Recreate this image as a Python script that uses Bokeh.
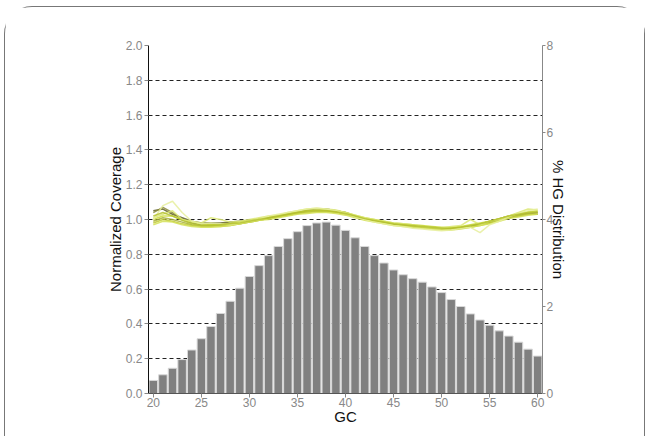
from bokeh.plotting import figure
from bokeh.models import Range1d, LinearAxis, FixedTicker, ColumnDataSource, PrintfTickFormatter
from bokeh.embed import file_html
from bokeh.resources import INLINE

gc = list(range(20, 61))

hg_dist = [0.30, 0.43, 0.58, 0.78, 1.00, 1.26, 1.54, 1.84, 2.12, 2.42, 2.69,
           2.94, 3.17, 3.38, 3.56, 3.72, 3.86, 3.92, 3.94, 3.87, 3.75, 3.58,
           3.38, 3.17, 3.00, 2.84, 2.73, 2.64, 2.56, 2.45, 2.32, 2.16, 2.00,
           1.83, 1.69, 1.57, 1.44, 1.32, 1.18, 1.02, 0.86]

cov1 = [1.05,1.06,1.03,1.01,0.99,0.98,0.98,0.98,0.985,0.99,0.995,1.0,1.01,1.02,1.03,1.04,1.05,1.06,1.06,1.05,1.04,1.02,1.005,0.995,0.985,0.975,0.97,0.965,0.96,0.955,0.95,0.95,0.955,0.96,0.97,0.985,1.0,1.01,1.02,1.03,1.03]
cov2 = [1.04,1.07,1.04,1.0,0.98,0.97,0.97,0.975,0.98,0.985,0.99,1.0,1.01,1.02,1.035,1.045,1.055,1.06,1.055,1.045,1.035,1.02,1.005,0.99,0.98,0.97,0.965,0.96,0.955,0.95,0.945,0.945,0.95,0.96,0.975,0.99,1.005,1.02,1.03,1.035,1.04]
cov3 = [0.99,1.01,1.0,0.985,0.97,0.965,0.965,0.965,0.97,0.975,0.985,0.995,1.005,1.015,1.025,1.035,1.045,1.05,1.05,1.045,1.035,1.02,1.005,0.995,0.985,0.975,0.97,0.965,0.96,0.955,0.95,0.95,0.955,0.96,0.97,0.98,0.995,1.01,1.025,1.035,1.04]
cov4 = [0.98,1.0,0.99,0.975,0.965,0.96,0.96,0.96,0.965,0.975,0.985,0.995,1.005,1.015,1.025,1.035,1.04,1.045,1.045,1.04,1.03,1.015,1.0,0.99,0.98,0.97,0.965,0.96,0.955,0.95,0.945,0.945,0.95,0.955,0.965,0.98,0.995,1.01,1.02,1.03,1.03]
cov5 = [1.0,1.02,1.02,1.0,0.985,0.975,0.97,0.97,0.975,0.985,0.995,1.005,1.015,1.025,1.035,1.045,1.05,1.055,1.055,1.05,1.04,1.025,1.01,1.0,0.99,0.98,0.975,0.97,0.965,0.96,0.955,0.955,0.96,0.97,0.98,0.99,1.005,1.02,1.035,1.045,1.05]
cov6 = [0.97,0.99,0.985,0.97,0.96,0.955,0.955,0.96,0.965,0.975,0.985,0.995,1.0,1.01,1.02,1.03,1.035,1.04,1.04,1.035,1.025,1.01,0.995,0.985,0.975,0.965,0.96,0.955,0.95,0.945,0.94,0.94,0.945,0.955,0.965,0.975,0.99,1.005,1.015,1.025,1.03]
cov7 = [1.01,1.03,1.05,1.0,0.99,0.98,1.01,1.0,0.985,0.99,1.0,1.01,1.02,1.025,1.04,1.05,1.06,1.065,1.06,1.055,1.04,1.025,1.01,1.0,0.99,0.98,0.975,0.97,0.96,0.955,0.95,0.96,0.965,1.0,0.97,0.99,1.0,1.02,1.04,1.06,1.055]
cov8 = [1.0,1.08,1.105,1.04,0.99,0.975,0.98,0.975,0.97,0.98,0.99,1.0,1.02,1.03,1.04,1.05,1.06,1.065,1.06,1.05,1.035,1.015,1.0,0.985,0.975,0.965,0.96,0.95,0.945,0.94,0.935,0.94,0.95,0.955,0.925,0.97,0.99,1.015,1.035,1.05,1.06]
cov9 = [1.02,1.04,1.02,0.995,0.975,0.965,0.965,0.97,0.975,0.98,0.99,1.0,1.01,1.02,1.03,1.04,1.05,1.05,1.05,1.045,1.035,1.02,1.005,0.995,0.985,0.975,0.97,0.965,0.96,0.955,0.95,0.95,0.955,0.965,0.975,0.99,1.005,1.02,1.03,1.04,1.045]

series = [cov1, cov2, cov3, cov4, cov5, cov6, cov7, cov8, cov9]
colors = ["#5f5f2a", "#8b8b3a", "#a8b03a", "#c0ca33", "#cddc39",
          "#d4e157", "#dce775", "#e6ee9c", "#b5c230"]

left_ticks = [0.0, 0.2, 0.4, 0.6, 0.8, 1.0, 1.2, 1.4, 1.6, 1.8, 2.0]
right_ticks = [0, 2, 4, 6, 8]
x_ticks = [20, 25, 30, 35, 40, 45, 50, 55, 60]

FONT = "Liberation Sans"

p = figure(width=641, height=430, output_backend="svg", toolbar_location=None,
           x_range=Range1d(19.5, 60.5), y_range=Range1d(0, 2.0),
           min_border_left=143, min_border_right=104, min_border_top=38,
           min_border_bottom=44)
p.extra_y_ranges = {"hg": Range1d(0, 8)}
p.outline_line_color = None
p.background_fill_color = "white"
p.border_fill_color = "white"
p.styles = {"border": "1px solid #777", "border-bottom": "none",
            "border-radius": "28px 28px 0 0",
            "box-sizing": "border-box", "margin-left": "4px",
            "margin-top": "6px"}

src = ColumnDataSource(dict(gc=gc, hg=hg_dist))
p.vbar(x="gc", top="hg", width=0.88, bottom=0, source=src,
       y_range_name="hg", fill_color="#808080", line_color="#d8d8d8",
       line_width=1)

for s, c in zip(series, colors):
    p.line(gc, s, line_color=c, line_width=1.5, line_alpha=0.85)

p.xgrid.visible = False
p.ygrid.ticker = FixedTicker(ticks=left_ticks)
p.ygrid.grid_line_color = "#222222"
p.ygrid.grid_line_dash = "4 3"
p.ygrid.grid_line_width = 1

# left axis
ya = p.yaxis[0]
ya.ticker = FixedTicker(ticks=left_ticks)
ya.formatter = PrintfTickFormatter(format="%.1f")
ya.axis_label = "Normalized Coverage"
ya.axis_label_text_font = FONT
ya.axis_label_text_font_size = "15px"
ya.axis_label_text_font_style = "normal"
ya.axis_label_text_color = "#111111"
ya.axis_label_standoff = -1
ya.major_label_text_font = FONT
ya.major_label_text_font_size = "12px"
ya.major_label_text_color = "#888888"
ya.axis_line_color = "#111111"
ya.major_tick_line_color = "#888888"
ya.major_tick_out = 4
ya.major_tick_in = 0
ya.minor_tick_line_color = None
ya.major_label_standoff = 2

# bottom axis
xa = p.xaxis[0]
xa.ticker = FixedTicker(ticks=x_ticks)
xa.axis_label = "GC"
xa.axis_label_text_font = FONT
xa.axis_label_text_font_size = "15px"
xa.axis_label_text_font_style = "normal"
xa.axis_label_text_color = "#111111"
xa.axis_label_standoff = -2
xa.major_label_text_font = FONT
xa.major_label_text_font_size = "12px"
xa.major_label_text_color = "#888888"
xa.axis_line_color = "#555555"
xa.major_tick_line_color = "#888888"
xa.major_tick_out = 4
xa.major_tick_in = 0
xa.minor_tick_line_color = None
xa.major_label_standoff = 0

# right axis
ra = LinearAxis(y_range_name="hg", ticker=FixedTicker(ticks=right_ticks))
ra.axis_label = "% HG Distribution"
ra.axis_label_text_font = FONT
ra.axis_label_text_font_size = "15px"
ra.axis_label_text_font_style = "normal"
ra.axis_label_text_color = "#111111"
ra.axis_label_standoff = -6
ra.major_label_text_font = FONT
ra.major_label_text_font_size = "12px"
ra.major_label_text_color = "#888888"
ra.axis_line_color = "#888888"
ra.major_tick_line_color = "#888888"
ra.major_tick_out = 3
ra.major_tick_in = 0
ra.minor_tick_line_color = None
ra.major_label_standoff = 1
p.add_layout(ra, "right")

open("out.html", "w").write(file_html(p, INLINE))
